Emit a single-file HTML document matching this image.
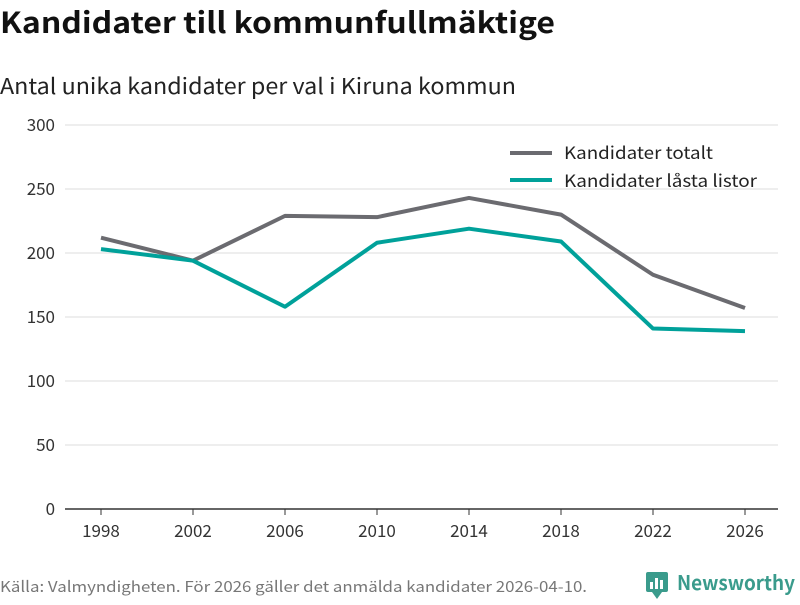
<!DOCTYPE html>
<html><head><meta charset="utf-8">
<style>
body{margin:0;background:#fff;width:800px;height:600px;overflow:hidden;font-family:"Noto Sans CJK SC","Liberation Sans",sans-serif;}
svg text{font-family:"Noto Sans CJK SC","Liberation Sans",sans-serif;}
</style></head>
<body>
<svg id="chart" width="800" height="600">
<text x="0" y="33" font-size="29" font-weight="bold" fill="#111" textLength="555" lengthAdjust="spacingAndGlyphs">Kandidater till kommunfullmäktige</text>
<text x="0" y="94" font-size="22" fill="#222" textLength="516" lengthAdjust="spacingAndGlyphs">Antal unika kandidater per val i Kiruna kommun</text>
<g id="grid"></g>
<g id="series"></g>
<g>
<line x1="510" y1="153" x2="552" y2="153" stroke="#6b6b70" stroke-width="4"/>
<text x="564" y="159" font-size="17" fill="#222" textLength="149" lengthAdjust="spacingAndGlyphs">Kandidater totalt</text>
<line x1="510" y1="180" x2="552" y2="180" stroke="#00a19a" stroke-width="4"/>
<text x="564" y="187" font-size="17" fill="#222" textLength="193" lengthAdjust="spacingAndGlyphs">Kandidater låsta listor</text>
</g>
<text x="0" y="592" font-size="15" fill="#777" textLength="587" lengthAdjust="spacingAndGlyphs">Källa: Valmyndigheten. För 2026 gäller det anmälda kandidater 2026-04-10.</text>
<g>
<rect x="646" y="572" width="22" height="20" rx="2" fill="#3a9b8c"/>
<path d="M652 592 L657 599 L662 592Z" fill="#3a9b8c"/>
<rect x="650" y="582" width="3" height="7" fill="#fff"/><rect x="655" y="578" width="3" height="11" fill="#fff"/><rect x="660" y="580" width="3" height="9" fill="#fff"/>
<text x="677" y="590" font-size="20" font-weight="bold" fill="#3a9b8c" textLength="118" lengthAdjust="spacingAndGlyphs">Newsworthy</text>
</g>
</svg>
<script>
const years=["1998","2002","2006","2010","2014","2018","2022","2026"];
const totalt=[212,194,229,228,243,230,183,157];
const lasta=[203,194,158,208,219,209,141,139];
const yTicks=[0,50,100,150,200,250,300];
const NS="http://www.w3.org/2000/svg";
const x=i=>101+i*92;
const y=v=>509-v*1.28;
const grid=document.getElementById('grid'),ser=document.getElementById('series');
function mk(t,a,p){const e=document.createElementNS(NS,t);for(const k in a)e.setAttribute(k,a[k]);p.appendChild(e);return e;}
yTicks.forEach(v=>{
 const l=mk('line',{x1:65,x2:778,y1:y(v),y2:y(v),stroke:v===0?'#333':'#ddd','stroke-width':v===0?1.5:1},grid);
 
 
 const t=mk('text',{x:55,y:y(v)+6,'font-size':17,fill:'#333','text-anchor':'end'},grid);t.textContent=v;
 
 
});
years.forEach((yr,i)=>{
 const tk=mk('line',{x1:x(i),x2:x(i),y1:509,y2:515,stroke:'#333'},grid);
 
 
 const t=mk('text',{x:x(i),y:537,'font-size':17,fill:'#333','text-anchor':'middle'},grid);t.textContent=yr;
 
 
});
function line(d,c,n){
 const p=mk('polyline',{points:d.map((v,i)=>x(i)+','+y(v)).join(' '),fill:'none',stroke:c,'stroke-width':4,'stroke-linejoin':'round'},ser);
 
 
}
line(totalt,'#6b6b70','line-kandidater-totalt');
line(lasta,'#00a19a','line-kandidater-lasta-listor');
</script>
</body></html>
